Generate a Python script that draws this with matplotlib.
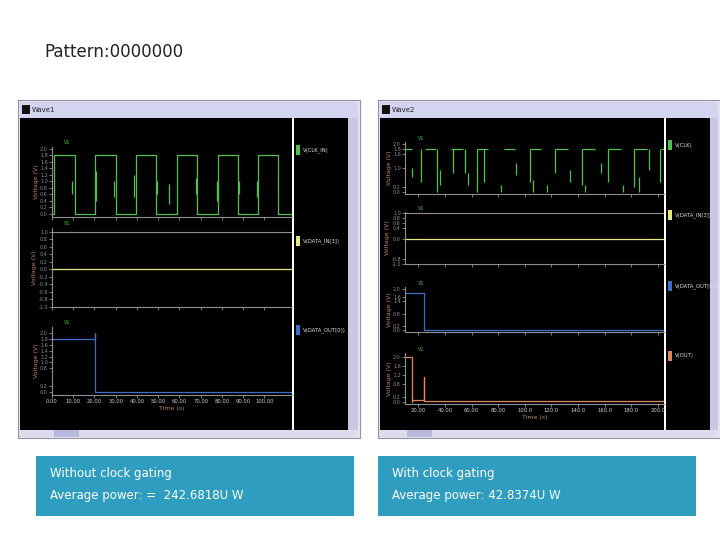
import matplotlib
matplotlib.use("Agg")
import matplotlib.pyplot as plt
from matplotlib.patches import Rectangle

# ---------------- data ----------------
title = "Pattern:0000000"
box_left = ["Without clock gating", "Average power: =  242.6818U W"]
box_right = ["With clock gating", "Average power: 42.8374U W"]

# left window (time in ns)
L_xlim = (0, 113)
L_ticks = [0, 10, 20, 30, 40, 50, 60, 70, 80, 90, 100]
L_ticklabels = ["0.00", "10.00", "20.00", "30.00", "40.00", "50.00", "60.00", "70.00", "80.00", "90.00", "100.00"]
L_clk_t = [0, 0.8, 11.0, 20.2, 30.2, 39.4, 48.8, 58.7, 68.5, 78.0, 87.4, 97.2, 106.3, 113]
L_clk_v = [0, 1.8, 0, 1.8, 0, 1.8, 0, 1.8, 0, 1.8, 0, 1.8, 0, 0]
L_glitch_t = [9.5, 20.8, 29.0, 38.6, 49.4, 55.0, 68.0, 77.5, 88.2, 96.5]
L_glitch_lo = [0.6, 0.4, 0.5, 0.5, 0.6, 0.3, 0.6, 0.4, 0.6, 0.5]
L_glitch_hi = [1.0, 1.3, 1.0, 1.2, 1.0, 0.9, 1.1, 1.0, 1.0, 1.0]
L_in_ref, L_in_v = 1.0, 0.0
L_out_t = [0, 20.2, 20.2, 20.2, 113]
L_out_v = [1.8, 1.8, 2.0, 0.0, 0.0]

# right window (time in ns)
R_xlim = (10, 204.5)
R_ticks = [20, 40, 60, 80, 100, 120, 140, 160, 180, 200]
R_ticklabels = ["20.00", "40.00", "60.00", "80.00", "100.0", "120.0", "140.0", "160.0", "180.0", "200.0"]
R_high_start = [10, 25, 44.5, 64, 84, 104, 123, 143, 162.5, 182, 202]
R_high_end = [15, 33.5, 53.5, 72.5, 92.5, 112.5, 132.5, 152.5, 172, 191.5, 204.5]
R_vert_t = [15, 22, 34, 36, 46, 55, 57, 64, 69, 82, 93, 104, 106, 117, 123, 134, 143, 145, 157, 162.5, 174, 182, 186, 193, 201.5]
R_vert_lo = [0.6, 0.4, 0.0, 0.3, 0.8, 0.8, 0.3, 0.0, 0.4, 0.0, 0.7, 0.4, 0.0, 0.0, 0.8, 0.4, 0.3, 0.0, 0.8, 0.4, 0.0, 0.2, 0.0, 0.9, 0.4]
R_vert_hi = [1.0, 1.8, 1.8, 0.9, 1.8, 1.8, 0.8, 1.8, 1.8, 0.3, 1.2, 1.8, 0.5, 0.3, 1.8, 0.9, 1.8, 0.3, 1.2, 1.8, 0.3, 1.8, 0.6, 1.8, 1.8]
R_in_ref, R_in_v = 1.0, 0.0
R_out_t = [10, 24.5, 24.5, 204.5]
R_out_v = [1.8, 1.8, 0.0, 0.0]
R_o_t = [10, 15, 15, 15.5, 15.5, 24.2, 24.2, 24.6, 24.6, 204.5]
R_o_v = [2.0, 2.0, 0.0, 0.0, 0.1, 0.1, 1.1, 1.1, 0.05, 0.05]

L_legend = ["V(CLK_IN)", "V(DATA_IN[3])", "V(DATA_OUT[0])"]
R_legend = ["V(CLK)", "V(DATA_IN[3])", "V(DATA_OUT[0])", "V(OUT)"]

GREEN, YELLOW, BLUE, ORANGE, GREY = "#4ec24e", "#e8e87a", "#3a70c8", "#e0885a", "#909090"
LABC = "#b88468"

W, H = 720, 540
fig = plt.figure(figsize=(W / 100, H / 100), dpi=100)
fig.patch.set_facecolor("white")

def rect(x, y, w, h):
    return [x / W, 1 - (y + h) / H, w / W, h / H]

def frect(x, y, w, h, color, ec="none", lw=0.8, z=0):
    fig.patches.append(Rectangle((x / W, 1 - (y + h) / H), w / W, h / H, transform=fig.transFigure,
                                 facecolor=color, edgecolor=ec, lw=lw, zorder=z))

def ftext(x, y, s, **kw):
    fig.text(x / W, 1 - y / H, s, zorder=20, **kw)

ftext(44, 52, title, fontsize=12, va="center", ha="left", family="DejaVu Sans", color="#222222")

def window(x0, y0, name, plot_x0, plot_x1, legend_x1):
    frect(x0, y0, 342, 338, "#e6e6ee", ec="#9090a8")
    frect(x0 + 2, y0 + 2, 338, 16, "#d4d4f0")
    frect(x0 + 4, y0 + 5, 8, 9, "#101010")
    ftext(x0 + 14, y0 + 10, name, fontsize=5, va="center", color="#202020")
    frect(x0 + 2, y0 + 18, legend_x1 - x0 - 2, 312, "#000000")
    frect(plot_x1, y0 + 18, 1.5, 312, "#ffffff", z=1)
    frect(legend_x1, y0 + 18, x0 + 340 - legend_x1, 312, "#c8c8e4")
    frect(x0 + 2, y0 + 330, 338, 7, "#dcdcec")
    frect(plot_x0 + 2, y0 + 330, 25, 7, "#b8b8dc")

window(18, 100, "Wave1", 52, 292, 348)
window(378, 100, "Wave2", 405, 664, 710)

def panel(box, xlim, ylim, yticks, ticks=None, ticklabels=None, xlabel=False):
    ax = fig.add_axes(rect(*box))
    ax.set_zorder(10)
    ax.set_facecolor("black")
    ax.set_xlim(*xlim)
    ax.set_ylim(*ylim)
    for s in ["top", "right"]:
        ax.spines[s].set_visible(False)
    for s in ["left", "bottom"]:
        ax.spines[s].set_color(GREY)
        ax.spines[s].set_linewidth(0.8)
    ax.set_yticks(yticks)
    ax.set_yticklabels([f"{v:.1f}" for v in yticks], fontsize=3.5, color="#c8c8c8")
    ax.tick_params(colors=GREY, length=2, width=0.6, pad=1)
    if ticks is not None:
        ax.set_xticks(ticks)
    if ticklabels is not None and xlabel:
        ax.set_xticklabels(ticklabels, fontsize=3.8, color="#d0d0d0")
        ax.set_xlabel("Time (s)", fontsize=4.5, color=LABC, labelpad=1)
    else:
        ax.set_xticklabels([])
    ax.set_ylabel("Voltage (V)", fontsize=4.5, color=LABC, labelpad=1)
    ax.text(0.05, 1.04, "V1", transform=ax.transAxes, fontsize=3.5, color=GREEN)
    return ax

def legend(x, y, color, label):
    frect(x, y, 4, 10, color, z=2)
    ftext(x + 7, y + 5, label, fontsize=3.8, color="#e0e0e0", va="center")

# ---- left window
a = panel((52, 147, 240, 70), L_xlim, (-0.1, 2.05), [0.0, 0.2, 0.4, 0.6, 0.8, 1.0, 1.2, 1.4, 1.6, 1.8, 2.0], L_ticks)
a.step(L_clk_t, L_clk_v, where="post", color=GREEN, lw=0.9)
a.vlines(L_glitch_t, L_glitch_lo, L_glitch_hi, color=GREEN, lw=0.9)
a = panel((52, 228, 240, 79), L_xlim, (-1.0, 1.1), [-1.0, -0.8, -0.6, -0.4, -0.2, 0.0, 0.2, 0.4, 0.6, 0.8, 1.0], L_ticks)
a.axhline(L_in_ref, color=GREY, lw=0.8)
a.axhline(L_in_v, color=YELLOW, lw=0.9)
a = panel((52, 327, 240, 68), L_xlim, (-0.1, 2.2), [0.0, 0.2, 0.8, 1.0, 1.2, 1.4, 1.6, 1.8, 2.0], L_ticks, L_ticklabels, True)
a.plot(L_out_t, L_out_v, color=BLUE, lw=0.9)
for i, (lab, c, y) in enumerate(zip(L_legend, [GREEN, YELLOW, BLUE], [145, 236, 325])):
    legend(296, y, c, lab)

# ---- right window
a = panel((405, 142, 259, 52), R_xlim, (-0.1, 2.1), [0.0, 0.2, 1.0, 1.6, 1.8, 2.0], R_ticks)
a.hlines([1.8] * len(R_high_start), R_high_start, R_high_end, color=GREEN, lw=0.9)
a.vlines(R_vert_t, R_vert_lo, R_vert_hi, color=GREEN, lw=0.9)
a = panel((405, 212, 259, 52), R_xlim, (-1.0, 1.05), [-1.0, -0.8, 0.0, 0.4, 0.6, 0.8, 1.0], R_ticks)
a.axhline(R_in_ref, color=GREY, lw=0.8)
a.axhline(R_in_v, color=YELLOW, lw=0.9)
a = panel((405, 287, 259, 45), R_xlim, (-0.1, 2.1), [0.0, 0.2, 0.8, 1.4, 1.6, 2.0], R_ticks)
a.plot(R_out_t, R_out_v, color=BLUE, lw=0.9)
a = panel((405, 353, 259, 51), R_xlim, (-0.1, 2.2), [0.0, 0.2, 0.8, 1.2, 1.6, 2.0], R_ticks, R_ticklabels, True)
a.plot(R_o_t, R_o_v, color=ORANGE, lw=0.9)
for lab, c, y in zip(R_legend, [GREEN, YELLOW, BLUE, ORANGE], [140, 210, 281, 351]):
    legend(668, y, c, lab)

# ---- text boxes
for x0, lines in [(36, box_left), (378, box_right)]:
    frect(x0, 456, 318, 60, "#2e9dbf")
    ftext(x0 + 14, 473, lines[0], fontsize=8.5, color="white", va="center")
    ftext(x0 + 14, 496, lines[1], fontsize=8.5, color="white", va="center")

fig.savefig("out.png", dpi=100, facecolor="white")
